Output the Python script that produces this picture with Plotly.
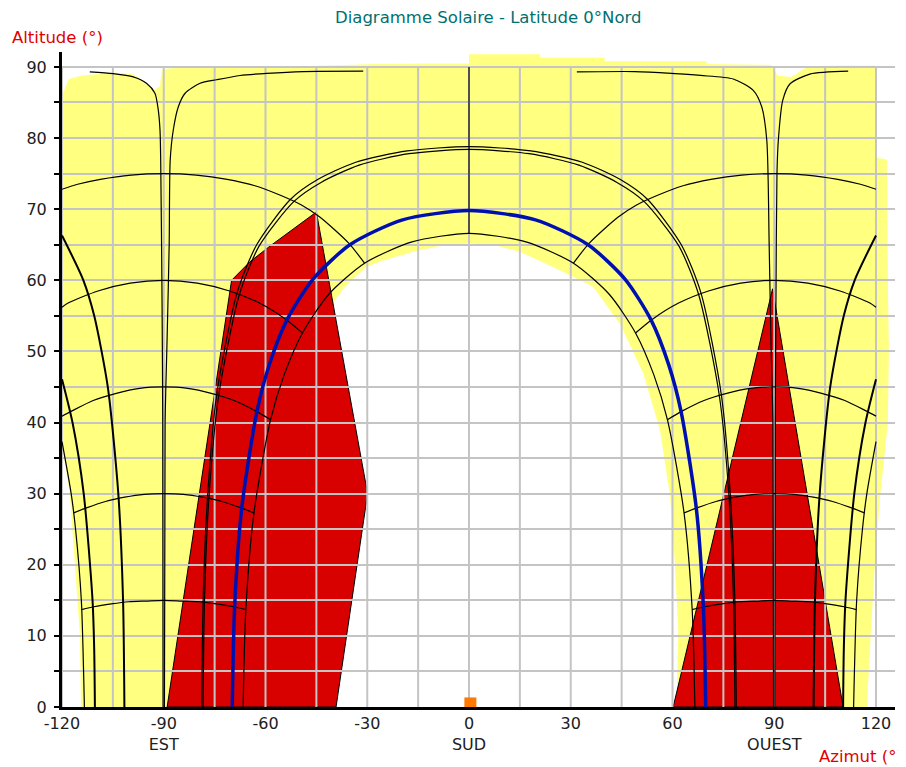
import plotly.graph_objects as go

# ---------------- axis ticks ----------------
x_tick_vals = [-120, -90, -60, -30, 0, 30, 60, 90, 120]
x_tick_text = ["-120", "-90<br>EST", "-60", "-30", "0<br>SUD", "30", "60", "90<br>OUEST", "120"]
x_grid_vals = [-120, -105, -90, -75, -60, -45, -30, -15, 0, 15, 30, 45, 60, 75, 90, 105, 120]
y_tick_vals = [0, 5, 10, 15, 20, 25, 30, 35, 40, 45, 50, 55, 60, 65, 70, 75, 80, 85, 90]
y_tick_text = ["0", "", "10", "", "20", "", "30", "", "40", "", "50", "", "60", "", "70", "", "80", "", "90"]

# ---------------- sky mask (yellow) ----------------
yellow_az = [-114.4, -114.7, -116.2, -117.7, -119.7, -120, -120, -118, -114, -105, -99, -97, -93, -91.2,
             -90.5, -88, -75, -50, -27, -10, 0, 0, 21, 21, 40, 40, 70, 70, 89, 91, 95, 98, 100, 110,
             119.7, 119.7, 123.2, 123.5, 123.8, 123.5, 121.2, 119.7, 118.2, 117.3]
yellow_alt = [0, 10, 20, 30, 36, 37, 86, 88.3, 88.8, 89.2, 89.0, 88.3, 86.8, 87.2,
              89.6, 89.8, 90.0, 90.1, 90.4, 90.5, 90.5, 91.8, 91.8, 91.3, 91.3, 90.8, 90.8, 90.4, 90.3, 88.8,
              88.6, 89.5, 90.1, 90.2, 90.2, 77.3, 77.0, 60, 50, 40, 29.5, 20.2, 8, 0]

white_az = [-61.2, -61.7, -60.7, -59.3, -56.3, -51.4, -44.5, -36.6, -30.2, -25.3, -15, -8, 0, 8, 15,
            26.8, 36.6, 44.5, 51.4, 56.3, 59.3, 60.7, 61.7, 61.2]
white_alt = [0, 10.8, 20.2, 29.6, 38.9, 46.9, 53.9, 59.1, 61.9, 62.8, 64.2, 64.9, 65.2, 64.9, 64.0,
             61.4, 59.1, 53.9, 46.9, 38.9, 29.6, 20.2, 10.8, 0]

# ---------------- obstacles (red) ----------------
red_left_az = [-89, -70, -64.6, -58.7, -45, -29.9, -39.2]
red_left_alt = [0, 60, 62.6, 64.8, 69.6, 30, 0]
red_right_az = [60.2, 89.5, 110.3]
red_right_alt = [0, 58.8, 0]

# ---------------- sun paths (declination curves) ----------------
dec_solstice_az = [-66.6, -65.8, -63.4, -58.5, -54.5, -49.1, -41.4, -30.8, -16.8, 0, 16.8, 30.8, 41.4, 49.1,
                   54.5, 58.5, 63.4, 65.8, 66.6]
dec_solstice_alt = [0, 13.7, 27.3, 40.4, 46.7, 52.6, 58.0, 62.4, 65.4, 66.6, 65.4, 62.4, 58.0, 52.6,
                    46.7, 40.4, 27.3, 13.7, 0]

feb_az = [-78.8, -78.4, -77.1, -74.4, -68.4, -62.6, -52.6, -44.5, -33.4, -18.2, 0, 18.2, 33.4, 44.5, 52.6,
          62.6, 68.4, 74.4, 77.1, 78.4, 78.8]
feb_alt = [0, 14.7, 29.4, 43.9, 58.2, 65.0, 71.4, 74.2, 76.6, 78.2, 78.8, 78.2, 76.6, 74.2, 71.4,
           65.0, 58.2, 43.9, 29.4, 14.7, 0]
oct_az = [-78.4, -78.0, -76.7, -73.8, -67.7, -61.9, -51.6, -43.5, -32.4, -17.7, 0, 17.7, 32.4, 43.5, 51.6,
          61.9, 67.7, 73.8, 76.7, 78.0, 78.4]
oct_alt = [0, 14.7, 29.3, 43.8, 58.0, 64.8, 71.1, 73.8, 76.2, 77.8, 78.4, 77.8, 76.2, 73.8, 71.1,
           64.8, 58.0, 43.8, 29.3, 14.7, 0]

equi_a_left_az = [-90.2, -90.3, -90.5, -90.9, -91.1, -91.6, -92.6, -95.1, -99, -104.9, -111.8]
equi_a_left_alt = [0, 40, 57, 76.9, 81.1, 83.9, 86.3, 87.7, 88.6, 89.05, 89.3]
equi_b_left_az = [-89.8, -89.6, -89.0, -88.4, -88.1, -87.2, -85.7, -83.7, -79.3, -74.4, -67.5, -59.6, -48.9, -31.2]
equi_b_left_alt = [0, 40, 52, 65, 76.9, 81.1, 84.4, 86.3, 87.7, 88.2, 88.8, 89.1, 89.35, 89.4]
equi_a_right_az = [90.2, 90.3, 90.5, 90.8, 91.2, 92.5, 94.6, 100.5, 111.8]
equi_a_right_alt = [0, 40, 57, 75, 79.7, 85.3, 87.6, 89.0, 89.4]
equi_b_right_az = [89.8, 89.6, 89.0, 88.5, 87.8, 86.3, 83.8, 77.9, 68.3, 59.6, 48.9, 31.8]
equi_b_right_alt = [0, 40, 52, 65, 79.7, 84.4, 86.7, 88.3, 88.8, 89.1, 89.35, 89.3]

apr_left_az = [-101.6, -102.0, -103.4, -106.5, -110.5, -113.7, -120]
apr_left_alt = [0, 15, 30, 45, 55, 60, 66.3]
apr_right_az = [101.6, 102.0, 103.4, 106.5, 110.5, 113.7, 120]
apr_right_alt = [0, 15, 30, 45, 55, 60, 66.3]
may_left_az = [-110.3, -110.5, -111.0, -113.6, -116.9, -120]
may_left_alt = [0, 8, 15, 30, 40, 46.1]
may_right_az = [110.3, 110.5, 111.0, 113.6, 116.9, 120]
may_right_alt = [0, 8, 15, 30, 40, 46.1]
jun_left_az = [-113.4, -114.3, -116.0, -117.3, -120]
jun_left_alt = [0, 15, 25, 30, 37.3]
jun_right_az = [113.4, 114.3, 116.0, 117.3, 120]
jun_right_alt = [0, 15, 25, 30, 37.3]

# ---------------- hour lines ----------------
h07_az = [-114.2, -110.6, -105.5, -100.3, -95.2, -90, -84.8, -79.7, -74.5, -69.4, -65.8]
h07_alt = [13.7, 14.1, 14.5, 14.8, 14.9, 15, 14.9, 14.8, 14.5, 14.1, 13.7]
h17_az = [114.2, 110.6, 105.5, 100.3, 95.2, 90, 84.8, 79.7, 74.5, 69.4, 65.8]
h17_alt = [13.7, 14.1, 14.5, 14.8, 14.9, 15, 14.9, 14.8, 14.5, 14.1, 13.7]
h08_az = [-116.6, -112.8, -107.2, -101.5, -95.8, -90, -84.2, -78.5, -72.8, -67.2, -63.4]
h08_alt = [27.3, 28.0, 28.9, 29.5, 29.9, 30, 29.9, 29.5, 28.9, 28.0, 27.3]
h16_az = [116.6, 112.8, 107.2, 101.5, 95.8, 90, 84.2, 78.5, 72.8, 67.2, 63.4]
h16_alt = [27.3, 28.0, 28.9, 29.5, 29.9, 30, 29.9, 29.5, 28.9, 28.0, 27.3]
h09_az = [-120, -117.2, -110.8, -104, -97.1, -90, -82.9, -76, -69.3, -62.8, -58.5]
h09_alt = [40.9, 41.6, 43.1, 44.1, 44.8, 45, 44.8, 44.1, 43.1, 41.6, 40.4]
h15_az = [120, 117.2, 110.8, 104, 97.1, 90, 82.9, 76, 69.3, 62.8, 58.5]
h15_alt = [40.9, 41.6, 43.1, 44.1, 44.8, 45, 44.8, 44.1, 43.1, 41.6, 40.4]
h10_az = [-120, -118.2, -109.4, -99.9, -90, -80.1, -70.6, -61.8, -54, -49.1]
h10_alt = [56.2, 56.8, 58.5, 59.6, 60, 59.6, 58.5, 56.8, 54.5, 52.6]
h14_az = [120, 118.2, 109.4, 99.9, 90, 80.1, 70.6, 61.8, 54, 49.1]
h14_alt = [56.2, 56.8, 58.5, 59.6, 60, 59.6, 58.5, 56.8, 54.5, 52.6]
h11_az = [-120, -115.4, -108.7, -99.6, -90, -80.4, -71.3, -63.1, -55.8, -49.4, -44, -35.4, -30.8]
h11_alt = [72.8, 73.5, 74.2, 74.8, 75, 74.8, 74.2, 73.3, 72.0, 70.6, 68.9, 65.2, 62.4]
h13_az = [120, 115.4, 108.7, 99.6, 90, 80.4, 71.3, 63.1, 55.8, 49.4, 44, 35.4, 30.8]
h13_alt = [72.8, 73.5, 74.2, 74.8, 75, 74.8, 74.2, 73.3, 72.0, 70.6, 68.9, 65.2, 62.4]
h12_az = [0, 0]
h12_alt = [66.6, 90]

# ---------------- current day path & marker ----------------
today_az = [-69.8, -69.1, -67.0, -62.5, -58.9, -53.7, -46.1, -35.1, -19.6, 0, 19.6, 35.1, 46.1, 53.7,
            58.9, 62.5, 67.0, 69.1, 69.8]
today_alt = [0, 14.1, 28.0, 41.6, 48.1, 54.4, 60.1, 65.0, 68.5, 69.8, 68.5, 65.0, 60.1, 54.4,
             48.1, 41.6, 28.0, 14.1, 0]
marker_az = [0.4]
marker_alt = [0.5]

YELLOW = "#FFFF80"
RED = "#D90000"
BLUE = "#0010B0"
GRID = "#C4C4C4"
FONT = "DejaVu Sans"


def poly_path(xs, ys):
    return "M " + " L ".join(f"{x},{y}" for x, y in zip(xs, ys)) + " Z"


fig = go.Figure()

thin = dict(color="black", width=1.2)
thick = dict(color="black", width=2.0)

black_curves = [
    (dec_solstice_az, dec_solstice_alt, thin),
    (feb_az, feb_alt, thin),
    (oct_az, oct_alt, thin),
    (equi_a_left_az, equi_a_left_alt, thin),
    (equi_b_left_az, equi_b_left_alt, thin),
    (equi_a_right_az, equi_a_right_alt, thin),
    (equi_b_right_az, equi_b_right_alt, thin),
    (apr_left_az, apr_left_alt, thick),
    (apr_right_az, apr_right_alt, thick),
    (may_left_az, may_left_alt, thick),
    (may_right_az, may_right_alt, thick),
    (jun_left_az, jun_left_alt, thin),
    (jun_right_az, jun_right_alt, thin),
    (h07_az, h07_alt, thin), (h17_az, h17_alt, thin),
    (h08_az, h08_alt, thin), (h16_az, h16_alt, thin),
    (h09_az, h09_alt, thin), (h15_az, h15_alt, thin),
    (h10_az, h10_alt, thin), (h14_az, h14_alt, thin),
    (h11_az, h11_alt, thin), (h13_az, h13_alt, thin),
    (h12_az, h12_alt, thin),
]
for az, alt, ln in black_curves:
    fig.add_trace(go.Scatter(x=az, y=alt, mode="lines",
                             line=dict(color=ln["color"], width=ln["width"], shape="spline", smoothing=0.7),
                             hoverinfo="skip", showlegend=False))

fig.add_trace(go.Scatter(x=today_az, y=today_alt, mode="lines",
                         line=dict(color=BLUE, width=3.5, shape="spline", smoothing=0.7),
                         hoverinfo="skip", showlegend=False))
fig.add_trace(go.Scatter(x=marker_az, y=marker_alt, mode="markers",
                         marker=dict(symbol="square", size=12, color="#FF7A00", line=dict(width=0)),
                         cliponaxis=False, hoverinfo="skip", showlegend=False))

shapes = [
    dict(type="path", xref="x", yref="y", path=poly_path(yellow_az, yellow_alt),
         fillcolor=YELLOW, line=dict(width=0), layer="below"),
    dict(type="path", xref="x", yref="y", path=poly_path(white_az, white_alt),
         fillcolor="white", line=dict(width=0), layer="below"),
    dict(type="path", xref="x", yref="y", path=poly_path(red_left_az, red_left_alt),
         fillcolor=RED, line=dict(color="black", width=1), layer="below"),
    dict(type="path", xref="x", yref="y", path=poly_path(red_right_az, red_right_alt),
         fillcolor=RED, line=dict(color="black", width=1), layer="below"),
]
for gx in x_grid_vals:
    shapes.append(dict(type="line", xref="x", yref="y", x0=gx, x1=gx, y0=0, y1=90,
                       line=dict(color=GRID, width=2), layer="between"))

# the page adds an 8 px body margin, so the figure is sized to fit inside the window
fig.update_layout(
    width=898, height=759,
    margin=dict(l=54, r=11, t=44, b=60, autoexpand=False),
    paper_bgcolor="white", plot_bgcolor="white",
    font=dict(family=FONT, size=16, color="#202020"),
    shapes=shapes,
    xaxis=dict(range=[-120, 125.6], tickmode="array", tickvals=x_tick_vals, ticktext=x_tick_text,
               showgrid=False, zeroline=False, showline=True, linecolor="black", linewidth=3,
               ticks="", tickfont=dict(family=FONT, size=16, color="#202020"), layer="above traces",
               automargin=False, fixedrange=True),
    yaxis=dict(range=[0, 92.1], tickmode="array", tickvals=y_tick_vals, ticktext=y_tick_text,
               showgrid=True, gridcolor=GRID, gridwidth=2, zeroline=False, showline=True,
               linecolor="black", linewidth=3, ticks="outside", ticklen=5, tickwidth=1.5,
               tickcolor="black", tickfont=dict(family=FONT, size=16, color="#202020"),
               ticklabelstandoff=4, layer="above traces", automargin=False, fixedrange=True),
    annotations=[
        dict(text="Diagramme Solaire - Latitude 0°Nord", xref="paper", yref="paper",
             x=0.511, y=1.052, xanchor="center", yanchor="middle", showarrow=False,
             font=dict(family=FONT, size=16.5, color="#007070")),
        dict(text="Altitude (°)", xref="paper", yref="paper", x=-0.0624, y=1.0229,
             xanchor="left", yanchor="middle", showarrow=False,
             font=dict(family=FONT, size=16.5, color="#E00000")),
        dict(text="Azimut (°)", xref="paper", yref="paper", x=1.012, y=-0.0763,
             xanchor="right", yanchor="middle", showarrow=False,
             font=dict(family=FONT, size=16.5, color="#E00000")),
    ],
)

fig.write_html("out.html")
